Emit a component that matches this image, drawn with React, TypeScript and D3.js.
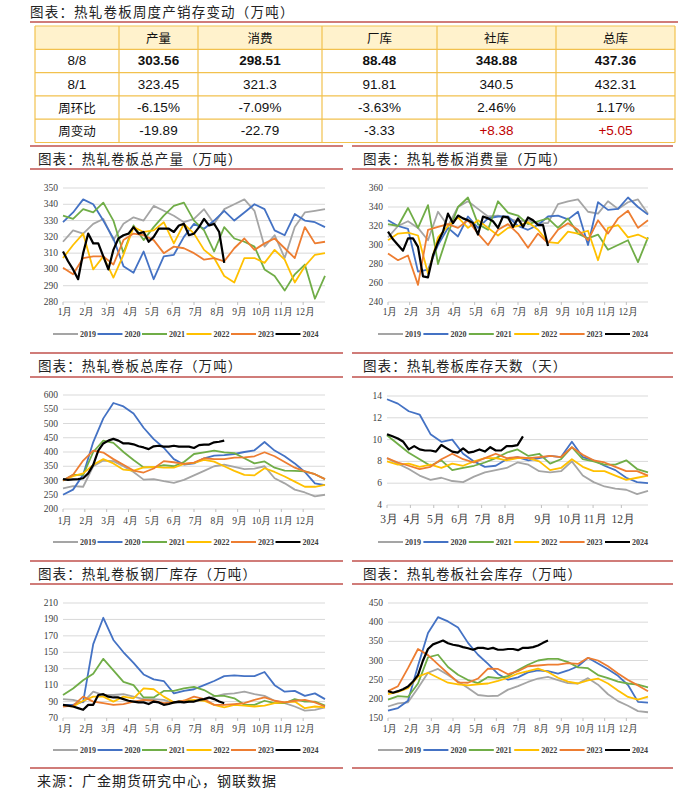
import React from "react";
import * as d3 from "d3";

const W = 690;
const H = 797;

const YEARS = ["2019", "2020", "2021", "2022", "2023", "2024"];
const COLORS = ["#A5A5A5", "#4472C4", "#70AD47", "#FFC000", "#ED7D31", "#000000"];
const MONTHS = ["1月", "2月", "3月", "4月", "5月", "6月", "7月", "8月", "9月", "10月", "11月", "12月"];
const DAY_MONTHS = ["3月", "4月", "5月", "6月", "7月", "8月", "9月", "10月", "11月", "12月"];
const DAY_MONTH_POS = [0, 4.3, 8.6, 13.1, 17.4, 21.7, 28.4, 33.3, 37.9, 43.1];

// ---- table ----
const TABLE_TITLE = "图表：热轧卷板周度产销存变动（万吨）";
const tableHeader = ["", "产量", "消费", "厂库", "社库", "总库"];
const row0808 = ["8/8", "303.56", "298.51", "88.48", "348.88", "437.36"];
const row0801 = ["8/1", "323.45", "321.3", "91.81", "340.5", "432.31"];
const rowPct = ["周环比", "-6.15%", "-7.09%", "-3.63%", "2.46%", "1.17%"];
const rowChg = ["周变动", "-19.89", "-22.79", "-3.33", "+8.38", "+5.05"];

// ---- 总产量 (biweekly history, weekly 2024) ----
const prod2019 = [317,324,322,328,331,318,328,332,330,339,336,333,329,331,337,328,337,340,343,336,314,321,307,326,335,336,337];
const prod2020 = [329,335,343,340,330,319,302,298,311,294,308,309,320,328,325,330,336,330,335,340,337,324,321,334,330,329,326];
const prod2021 = [333,331,337,335,341,330,310,327,318,326,333,339,341,330,324,311,326,319,317,314,300,296,287,297,303,282,296];
const prod2022 = [307,315,322,300,308,295,309,326,323,324,329,316,328,322,312,307,296,292,307,307,304,312,306,292,302,309,310];
const prod2023 = [301,297,307,308,308,303,318,322,321,318,310,314,313,310,306,307,305,313,319,312,316,319,313,307,326,316,317];
const prod2024 = [311,305,300,294,310,322,316,316,308,300,312,319,321,322,326,322,323,317,320,325,325,325,323,327,328,321,322,326,331,327,328,323,304];

// ---- 消费量 ----
const cons2019 = [308,320,325,318,305,335,320,340,346,338,330,331,328,325,326,323,323,343,346,348,335,333,346,338,345,348,333];
const cons2020 = [326,320,317,272,274,300,318,309,330,318,328,330,330,320,316,321,330,331,327,335,300,345,337,338,350,340,332];
const cons2021 = [322,320,339,318,342,280,312,340,350,322,316,346,334,331,322,325,328,318,328,312,307,311,295,300,305,282,308];
const cons2022 = [305,312,313,310,270,308,320,329,318,326,318,310,318,320,324,316,303,302,314,312,315,284,318,321,308,311,306];
const cons2023 = [291,284,289,258,316,319,322,318,326,312,300,316,322,312,297,312,302,316,323,316,305,326,312,328,336,318,326];
const cons2024 = [314,306,300,294,307,307,298,267,266,289,303,314,333,323,331,328,326,323,311,330,328,325,318,330,329,319,328,319,329,326,321,321,299];

// ---- 总库存 ----
const inv2019 = [272,280,278,350,370,368,350,330,303,305,298,292,302,318,334,350,356,348,340,342,350,308,290,268,258,244,250];
const inv2020 = [250,268,320,435,518,572,560,535,485,445,415,375,356,360,378,387,389,393,400,406,435,405,385,360,330,290,284];
const inv2021 = [300,320,320,400,440,432,400,372,346,346,354,350,365,393,399,405,399,396,378,360,367,345,335,334,332,322,305];
const inv2022 = [300,315,325,355,375,360,338,335,346,348,345,345,358,362,372,366,350,334,320,318,343,330,314,296,278,278,285];
const inv2023 = [300,320,370,405,398,375,355,335,328,342,368,364,358,363,378,375,375,380,381,385,399,385,365,345,332,322,305];
const inv2024 = [305,302,304,305,308,325,355,405,430,440,446,440,430,430,427,420,416,410,420,422,419,419,422,419,419,419,414,424,426,426,434,436,440];

// ---- 库存天数 ----
const days2019 = [8.3,7.8,7.3,6.7,6.3,6.5,6.2,6.1,6.6,7.0,7.2,7.4,7.9,7.7,7.1,7.0,7.1,8.0,6.7,6.1,5.7,5.5,5.4,5.0,5.3];
const days2020 = [13.7,13.3,12.6,12.3,10.5,9.8,10.0,8.7,8.0,7.5,7.6,8.2,8.4,8.1,8.3,8.5,8.4,9.8,8.4,8.1,7.6,7.2,6.5,6.1,6.0];
const days2021 = [10.4,9.6,8.8,8.2,7.6,8.1,7.2,7.4,7.6,7.9,8.3,8.8,9.1,8.5,8.7,7.8,8.2,9.3,8.2,8.0,7.7,7.7,8.1,7.3,7.0];
const days2022 = [8.0,7.7,7.8,7.5,7.7,7.4,7.8,7.6,8.0,8.3,8.3,8.1,8.3,8.3,8.0,7.2,7.4,8.2,7.5,7.1,7.1,6.7,6.3,6.5,6.7];
const days2023 = [8.3,7.9,7.6,7.3,7.5,8.2,8.7,8.2,7.9,8.3,8.7,8.3,8.4,8.3,8.4,8.5,8.4,9.3,8.6,8.1,7.9,7.5,7.1,7.1,6.7];
const days2024 = [10.5,10.3,10.1,9.8,9.1,9.4,9.1,9.0,9.0,8.9,9.5,9.2,8.9,8.8,9.2,8.8,8.9,9.1,8.9,9.3,9.0,9.0,9.4,9.4,9.5,10.3];

// ---- 钢厂库存 ----
const mill2019 = [93,92,89,102,98,98,99,96,93,93,92,88,89,90,92,96,99,100,102,99,97,91,88,84,79,80,83];
const mill2020 = [86,86,90,160,192,165,150,137,123,117,115,100,103,105,110,115,121,122,121,121,126,110,102,103,97,100,93];
const mill2021 = [98,106,116,124,142,128,114,110,95,95,103,103,106,108,104,97,97,94,86,86,91,88,88,93,90,90,85];
const mill2022 = [85,84,91,96,96,90,96,94,106,105,96,89,91,92,91,86,83,86,85,84,85,88,89,90,82,84,83];
const mill2023 = [84,85,96,90,88,86,87,90,92,91,88,89,91,96,93,86,86,87,88,92,95,91,89,91,92,89,84];
const mill2024 = [86,85,84,82,80,86,86,98,99,96,95,95,93,91,90,89,89,87,90,89,86,87,89,90,89,90,90,92,93,95,93,90,88];

// ---- 社会库存 ----
const soc2019 = [180,188,191,228,268,278,262,245,228,210,207,208,224,233,244,253,257,249,241,240,254,237,212,194,182,168,165];
const soc2020 = [169,176,195,286,372,413,402,386,346,315,291,265,250,256,269,274,272,266,274,285,307,292,277,260,236,192,190];
const soc2021 = [198,207,205,240,308,315,283,263,249,241,257,254,259,275,289,300,304,304,296,282,280,262,254,245,240,237,230];
const soc2022 = [212,218,228,258,268,255,242,238,235,238,240,247,255,266,272,279,270,255,245,240,248,253,240,222,205,198,206];
const soc2023 = [220,233,280,330,314,290,266,243,242,253,279,278,264,272,285,287,289,289,293,291,307,300,285,266,249,235,220];
const soc2024 = [220,216,220,225,232,245,262,300,330,342,347,352,345,341,339,335,332,328,333,333,330,333,328,328,330,330,327,333,333,335,339,346,352];

const FOOTER = "来源：广金期货研究中心，钢联数据";

type Tick = { pos: number; label: string };
interface PanelCfg {
  title: string;
  left: number; right: number; top: number; bottom: number;
  yDomain: [number, number]; yTicks: number[];
  xDomain: [number, number]; xTicks: Tick[]; xLabelSize: number; xLabelY: number;
  series: number[][]; steps: number[];
  legendX: number; legendGap: number; legendY: number;
}

const monthTicks: Tick[] = MONTHS.map((m, i) => ({ pos: (i * 52) / 12, label: m }));
const dayTicks: Tick[] = DAY_MONTHS.map((m, i) => ({ pos: DAY_MONTH_POS[i], label: m }));
const range = (a: number, b: number, s: number) => d3.range(a, b + s / 2, s);

const LEFT = { left: 63, right: 325, legendX: 53, legendGap: 44.5 };
const RIGHT = { left: 388, right: 648, legendX: 378, legendGap: 45.4 };
const weekSteps = [2, 2, 2, 2, 2, 1];

const panels: PanelCfg[] = [
  { title: "图表：热轧卷板总产量（万吨）", ...LEFT, top: 188, bottom: 302, yDomain: [280, 350], yTicks: range(280, 350, 10),
    xDomain: [0, 52], xTicks: monthTicks, xLabelSize: 9.5, xLabelY: 312,
    series: [prod2019, prod2020, prod2021, prod2022, prod2023, prod2024], steps: weekSteps, legendY: 334 },
  { title: "图表：热轧卷板消费量（万吨）", ...RIGHT, top: 188, bottom: 302, yDomain: [240, 360], yTicks: range(240, 360, 20),
    xDomain: [0, 52], xTicks: monthTicks, xLabelSize: 9.5, xLabelY: 312,
    series: [cons2019, cons2020, cons2021, cons2022, cons2023, cons2024], steps: weekSteps, legendY: 334 },
  { title: "图表：热轧卷板总库存（万吨）", ...LEFT, top: 395, bottom: 509, yDomain: [200, 600], yTicks: range(200, 600, 50),
    xDomain: [0, 52], xTicks: monthTicks, xLabelSize: 9.5, xLabelY: 521,
    series: [inv2019, inv2020, inv2021, inv2022, inv2023, inv2024], steps: weekSteps, legendY: 542 },
  { title: "图表：热轧卷板库存天数（天）", left: 387, right: 648, legendX: 378, legendGap: 45.4, top: 396, bottom: 505,
    yDomain: [4, 14], yTicks: range(4, 14, 2),
    xDomain: [0, 48], xTicks: dayTicks, xLabelSize: 11.5, xLabelY: 519,
    series: [days2019, days2020, days2021, days2022, days2023, days2024], steps: weekSteps, legendY: 542 },
  { title: "图表：热轧卷板钢厂库存（万吨）", ...LEFT, top: 603, bottom: 718, yDomain: [70, 210], yTicks: range(70, 210, 20),
    xDomain: [0, 52], xTicks: monthTicks, xLabelSize: 9.5, xLabelY: 729,
    series: [mill2019, mill2020, mill2021, mill2022, mill2023, mill2024], steps: weekSteps, legendY: 750 },
  { title: "图表：热轧卷板社会库存（万吨）", ...RIGHT, top: 603, bottom: 718, yDomain: [150, 450], yTicks: range(150, 450, 50),
    xDomain: [0, 52], xTicks: monthTicks, xLabelSize: 9.5, xLabelY: 729,
    series: [soc2019, soc2020, soc2021, soc2022, soc2023, soc2024], steps: weekSteps, legendY: 750 },
];

const SERIF = "'Liberation Serif', 'DejaVu Serif', serif";
const CJK = "'Noto Sans CJK SC', sans-serif";
const RED = "#C0504D";

function Panel({ c }: { c: PanelCfg }) {
  const x = d3.scaleLinear().domain(c.xDomain).range([c.left, c.right]);
  const y = d3.scaleLinear().domain(c.yDomain).range([c.bottom, c.top]);
  const line = d3.line<[number, number]>().x((d) => x(d[0])).y((d) => y(d[1]));
  return (
    <g>
      {c.yTicks.map((t) => (
        <line key={"g" + t} x1={c.left} x2={c.right} y1={y(t)} y2={y(t)} stroke="#D9D9D9" strokeWidth={1} />
      ))}
      {c.yTicks.map((t) => (
        <text key={"yl" + t} x={c.left - 5} y={y(t)} textAnchor="end" dominantBaseline="central"
          fontFamily={SERIF} fontSize={9.5} fill="#404040">{t}</text>
      ))}
      {c.xTicks.map((t) => (
        <line key={"xt" + t.label} x1={x(t.pos)} x2={x(t.pos)} y1={c.bottom} y2={c.bottom + 3} stroke="#BFBFBF" strokeWidth={1} />
      ))}
      {c.xTicks.map((t) => (
        <text key={"xl" + t.label} x={x(t.pos) + 2} y={c.xLabelY} textAnchor="middle" dominantBaseline="central"
          fontFamily={SERIF} fontSize={c.xLabelSize} fill="#404040">{t.label}</text>
      ))}
      {c.series.map((vals, i) => (
        <path key={"s" + i}
          d={line(vals.map((v, j) => [j * c.steps[i], v] as [number, number])) || ""}
          fill="none" stroke={COLORS[i]} strokeWidth={i === 5 ? 2.2 : 1.8} strokeLinejoin="round" />
      ))}
      {YEARS.map((yr, i) => {
        const lx = c.legendX + i * c.legendGap;
        return (
          <g key={"lg" + yr}>
            <line x1={lx} x2={lx + 25} y1={c.legendY} y2={c.legendY} stroke={COLORS[i]} strokeWidth={2} />
            <text x={lx + 27} y={c.legendY} dominantBaseline="central" fontFamily={SERIF} fontSize={8}
              fontWeight="bold" fill="#404040">{yr}</text>
          </g>
        );
      })}
    </g>
  );
}

function SectionHeader({ left, right, top, bottom, title, tx }: { left: number; right: number; top: number; bottom: number; title: string; tx: number }) {
  return (
    <g>
      <line x1={left} x2={right} y1={top} y2={top} stroke={RED} strokeWidth={1.5} />
      <line x1={left} x2={right} y1={bottom} y2={bottom} stroke={RED} strokeWidth={1.5} />
      <text x={tx} y={(top + bottom) / 2} dominantBaseline="central" fontFamily={CJK} fontSize={13.5}
        letterSpacing={1.1} fill="#222">{title}</text>
    </g>
  );
}

function Table() {
  const cols = [35, 119, 198, 322, 437, 556, 675];
  const rowsY = d3.range(6).map((i) => 26 + i * 23.3);
  const rows = [tableHeader, row0808, row0801, rowPct, rowChg];
  const border = "#F2C14E";
  return (
    <g>
      <rect x={cols[0]} y={rowsY[0]} width={cols[6] - cols[0]} height={rowsY[1] - rowsY[0]} fill="#FFF2CC" />
      {rowsY.map((yy, i) => (
        <line key={"h" + i} x1={cols[0]} x2={cols[6]} y1={yy} y2={yy} stroke={border} strokeWidth={1.2} />
      ))}
      {cols.map((xx, i) => (
        <line key={"v" + i} x1={xx} x2={xx} y1={rowsY[0]} y2={rowsY[5]} stroke={border} strokeWidth={1.2} />
      ))}
      {rows.map((r, ri) =>
        r.map((cell, ci) => {
          const cx = (cols[ci] + cols[ci + 1]) / 2;
          const cy = (rowsY[ri] + rowsY[ri + 1]) / 2;
          const isCjk = ri === 0 || (ci === 0 && ri >= 3);
          const red = ri === 4 && ci >= 4;
          return (
            <text key={ri + "-" + ci} x={cx} y={cy} textAnchor="middle" dominantBaseline="central"
              fontFamily={isCjk ? CJK : "'Liberation Sans', Arial, sans-serif"}
              fontSize={isCjk ? 12.5 : 13.5} fontWeight={ri === 1 && ci > 0 ? "bold" : "normal"}
              fill={red ? "#C00000" : "#111"}>{cell}</text>
          );
        })
      )}
    </g>
  );
}

export default function App() {
  return (
    <div style={{ position: "absolute", left: 0, top: 0, width: W, height: H, background: "#fff" }}>
      <svg width={W} height={H} style={{ display: "block" }}>
        <rect width={W} height={H} fill="#fff" />
        <text x={30} y={11} dominantBaseline="central" fontFamily={CJK} fontSize={13.5} letterSpacing={1.2} fill="#222">
          {TABLE_TITLE}
        </text>
        <line x1={30} x2={678} y1={22} y2={22} stroke={RED} strokeWidth={1.5} />
        <Table />
        <SectionHeader left={30} right={343} top={146} bottom={169} title={panels[0].title} tx={38} />
        <SectionHeader left={352} right={673} top={146} bottom={169} title={panels[1].title} tx={363} />
        <SectionHeader left={30} right={343} top={353} bottom={377} title={panels[2].title} tx={38} />
        <SectionHeader left={352} right={673} top={353} bottom={377} title={panels[3].title} tx={363} />
        <SectionHeader left={30} right={343} top={561} bottom={584} title={panels[4].title} tx={38} />
        <SectionHeader left={352} right={673} top={561} bottom={584} title={panels[5].title} tx={363} />
        {panels.map((p, i) => (
          <Panel key={i} c={p} />
        ))}
        <line x1={30} x2={343} y1={768} y2={768} stroke={RED} strokeWidth={1.5} />
        <line x1={352} x2={673} y1={768} y2={768} stroke={RED} strokeWidth={1.5} />
        <text x={37} y={780} dominantBaseline="central" fontFamily={CJK} fontSize={14} letterSpacing={1} fill="#222">
          {FOOTER}
        </text>
      </svg>
    </div>
  );
}
